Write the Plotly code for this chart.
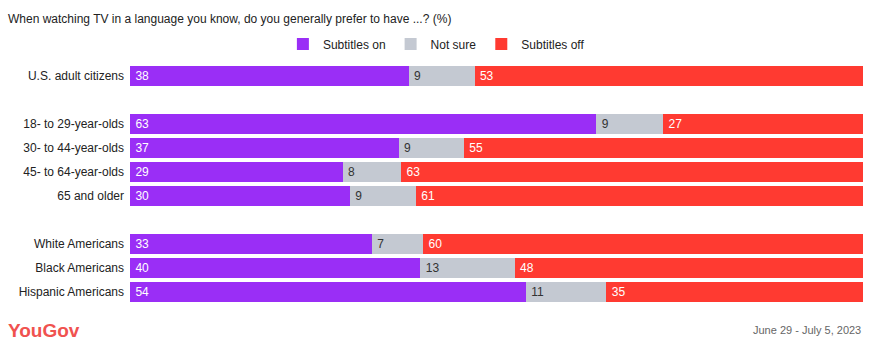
import plotly.graph_objects as go

categories = ["U.S. adult citizens", "18- to 29-year-olds", "30- to 44-year-olds",
              "45- to 64-year-olds", "65 and older", "White Americans",
              "Black Americans", "Hispanic Americans"]
subtitles_on = [38, 63, 37, 29, 30, 33, 40, 54]
not_sure = [9, 9, 9, 8, 9, 7, 13, 11]
subtitles_off = [53, 27, 55, 63, 61, 60, 48, 35]
row_order = ["U.S. adult citizens", " ", "18- to 29-year-olds", "30- to 44-year-olds",
             "45- to 64-year-olds", "65 and older", "  ", "White Americans",
             "Black Americans", "Hispanic Americans"]

FONT = "Liberation Sans, Arial, sans-serif"
series = [
    ("Subtitles on", subtitles_on, "#9a2ef6", "white"),
    ("Not sure", not_sure, "#c4c9d2", "#333333"),
    ("Subtitles off", subtitles_off, "#ff3a31", "white"),
]

fig = go.Figure()
for name, vals, color, tcolor in series:
    fig.add_trace(go.Bar(
        y=categories, x=vals, name=name, orientation="h",
        marker=dict(color=color, line=dict(width=0)),
        text=["\u2009" + str(v) for v in vals], textposition="inside",
        insidetextanchor="start", textangle=0,
        textfont=dict(color=tcolor, size=12, family=FONT),
        hoverinfo="skip",
    ))

fig.update_layout(
    barmode="stack", barnorm="percent", bargap=1 - 20 / 24,
    width=873, height=355,
    margin=dict(l=130, r=10, t=64, b=51, autoexpand=False),
    paper_bgcolor="white", plot_bgcolor="white",
    font=dict(family=FONT, size=12, color="#222222"),
    uniformtext=dict(minsize=12, mode="show"),
    showlegend=True,
    legend=dict(orientation="h", xref="paper", x=0.418, xanchor="center",
                yref="paper", y=1 + 20 / 240, yanchor="middle",
                font=dict(size=12, family=FONT, color="#222222"),
                traceorder="normal", itemclick=False, itemdoubleclick=False),
    xaxis=dict(range=[0, 100], visible=False, fixedrange=True),
    yaxis=dict(categoryorder="array", categoryarray=row_order, autorange="reversed",
               showgrid=False, zeroline=False, showline=False, ticks="", automargin=False,
               fixedrange=True,
               tickfont=dict(size=12, family=FONT, color="#222222"), ticklabelstandoff=5),
    title=dict(text="When watching TV in a language you know, do you generally prefer to have ...? (%)",
               x=8 / 873, xanchor="left", y=1 - 19 / 355, yanchor="middle",
               font=dict(size=12, family=FONT, color="#222222")),
    annotations=[
        dict(text="<b>YouGov</b>", xref="paper", yref="paper", x=-124 / 733, y=-26 / 240,
             xanchor="left", yanchor="middle", showarrow=False,
             font=dict(size=19, family=FONT, color="#f0524f")),
        dict(text="June 29 - July 5, 2023", xref="paper", yref="paper", x=1.0, y=-26 / 240,
             xanchor="right", yanchor="middle", showarrow=False,
             font=dict(size=11, family=FONT, color="#666666")),
    ],
)

fig.write_html("out.html", config={"displayModeBar": False},
               post_script="document.body.style.margin='0';document.body.style.overflow='hidden';")
